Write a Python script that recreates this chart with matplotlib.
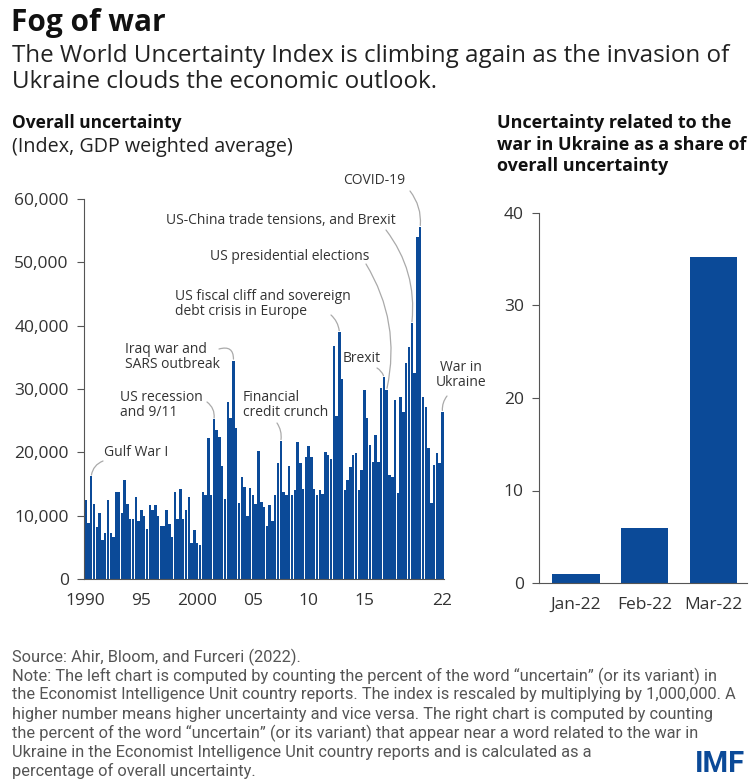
import matplotlib
matplotlib.use("Agg")
import matplotlib.pyplot as plt
import numpy as np

plt.rcParams['font.family'] = ['Open Sans', 'DejaVu Sans']

# World Uncertainty Index, quarterly 1990Q1 - 2022Q1
wui = [12.4, 8.8, 16.2, 11.8, 8.2, 10.4, 6.2, 7.3,
       12.5, 7.3, 6.7, 13.8, 13.7, 10.5, 15.7, 11.9,
       9.5, 9.4, 12.9, 9.1, 10.9, 9.9, 7.9, 11.7,
       10.9, 11.7, 9.9, 8.4, 8.3, 10.9, 8.7, 6.7,
       13.7, 9.5, 14.2, 9.4, 10.9, 12.9, 5.7, 7.8,
       5.7, 5.4, 13.7, 13.3, 22.3, 13.2, 25.2, 23.5,
       22.5, 17.9, 12.7, 27.9, 25.5, 34.5, 23.8, 12.0,
       16.1, 14.6, 9.9, 14.4, 13.2, 11.9, 20.2, 12.1,
       11.4, 8.3, 11.7, 9.1, 13.3, 18.3, 21.8, 13.8,
       13.3, 17.9, 13.3, 14.1, 21.7, 18.3, 14.2, 19.3,
       21.0, 19.3, 14.2, 13.3, 14.0, 13.5, 20.0, 19.6,
       19.0, 36.8, 25.8, 39.0, 31.6, 14.0, 15.6, 17.7,
       19.6, 19.9, 14.1, 17.2, 29.9, 25.4, 21.2, 18.5,
       22.7, 18.5, 30.2, 31.9, 29.9, 16.4, 16.1, 28.3,
       13.6, 28.8, 26.4, 34.1, 36.7, 40.4, 32.5, 54.0,
       55.6, 28.8, 27.2, 20.7, 12.0, 18.0, 19.9, 18.3,
       26.4]
wui = np.array(wui) * 1000

xtick_idx = [0, 20, 40, 60, 80, 100, 128]
xtick_lab = ['1990', '95', '2000', '05', '10', '15', '22']
ytick_vals = [0, 10000, 20000, 30000, 40000, 50000, 60000]

months = ['Jan-22', 'Feb-22', 'Mar-22']
share = [1.0, 6.0, 35.2]

# events: label, bar index, text position (figure px from top-left), leader start, rad, ha
events = [
    ('Gulf War I', 2, (104, 452), (103, 461), 0.3, 'left'),
    ('US recession\nand 9/11', 46, (120, 405), (207, 402), -0.3, 'left'),
    ('Iraq war and\nSARS outbreak', 53, (125, 357), (219, 349), -0.7, 'left'),
    ('Financial\ncredit crunch', 70, (243, 405), (277, 423), -0.2, 'left'),
    ('US fiscal cliff and sovereign\ndebt crisis in Europe', 91, (175, 304), (331, 315), -0.2, 'left'),
    ('Brexit', 107, (343, 359), (377, 368), -0.2, 'left'),
    ('US presidential elections', 108, (210, 256), (366, 264), -0.2, 'left'),
    ('US-China trade tensions, and Brexit', 117, (166, 220), (386, 230), -0.2, 'left'),
    ('COVID-19', 120, (343, 181), (410, 191), -0.2, 'left'),
    ('War in\nUkraine', 128, (461, 375), (447, 396), 0.2, 'center'),
]

blue = '#0b4a98'
W, H = 751, 780

fig = plt.figure(figsize=(W / 100, H / 100), dpi=100)

def fx(px):
    return px / W

def fy(py):
    return 1 - py / H

fig.text(fx(11), fy(23), 'Fog of war', fontsize=21.5, fontweight='bold', va='center', color='#111111')
fig.text(fx(12), fy(56), 'The World Uncertainty Index is climbing again as the invasion of',
         fontsize=17.4, va='center', color='#222222')
fig.text(fx(12), fy(82), 'Ukraine clouds the economic outlook.', fontsize=17.4, va='center', color='#222222')

fig.text(fx(12), fy(123), 'Overall uncertainty', fontsize=12.5, fontweight='bold', va='center', color='#111111')
fig.text(fx(12), fy(147), '(Index, GDP weighted average)', fontsize=14.2, va='center', color='#222222')

for i, line in enumerate(['Uncertainty related to the', 'war in Ukraine as a share of', 'overall uncertainty']):
    fig.text(fx(497), fy(123 + i * 21.5), line, fontsize=13, fontweight='bold', va='center', color='#111111')

# left chart
ax = fig.add_axes([fx(84), fy(579), fx(444) - fx(84), fy(199) - fy(579)])
x = np.arange(len(wui))
ax.bar(x, wui, width=0.88, color=blue, linewidth=0)
ax.set_xlim(-0.6, len(wui) - 0.45)
ax.set_ylim(0, 60000)
ax.set_yticks(ytick_vals)
ax.set_yticklabels([f'{v:,}' for v in ytick_vals])
ax.set_xticks(xtick_idx)
ax.set_xticklabels(xtick_lab)
ax.tick_params(axis='y', length=5, width=0.8, color='#555555', labelsize=12.5, labelcolor='#333333', pad=6)
ax.tick_params(axis='x', length=0, labelsize=12.5, labelcolor='#333333', pad=10)
for s in ['top', 'right']:
    ax.spines[s].set_visible(False)
for s in ['left', 'bottom']:
    ax.spines[s].set_color('#555555')
    ax.spines[s].set_linewidth(0.8)

for label, idx, tpos, lstart, rad, ha in events:
    ax.annotate(label, xy=(tpos[0], H - tpos[1]), xycoords='figure pixels',
                ha=ha, va='center', fontsize=10, color='#333333', linespacing=0.95)
    ax.annotate('', xy=(idx, wui[idx]), xycoords='data',
                xytext=(lstart[0], H - lstart[1]), textcoords='figure pixels',
                arrowprops=dict(arrowstyle='-', color='#aaaaaa', lw=0.9,
                                connectionstyle=f'arc3,rad={rad}', shrinkA=0, shrinkB=1))

# right chart
ax2 = fig.add_axes([fx(539), fy(583), fx(747) - fx(539), fy(213) - fy(583)])
ax2.bar(range(len(months)), share, width=0.69, color=blue, linewidth=0)
ax2.set_xlim(-0.54, 2.49)
ax2.set_ylim(0, 40)
ax2.set_yticks([0, 10, 20, 30, 40])
ax2.set_xticks(range(len(months)))
ax2.set_xticklabels(months)
ax2.tick_params(axis='y', length=5, width=0.8, color='#555555', labelsize=12.5, labelcolor='#333333', pad=6)
ax2.tick_params(axis='x', length=0, labelsize=12.5, labelcolor='#333333', pad=10)
for s in ['top', 'right']:
    ax2.spines[s].set_visible(False)
for s in ['left', 'bottom']:
    ax2.spines[s].set_color('#555555')
    ax2.spines[s].set_linewidth(0.8)

footer = [
    'Source: Ahir, Bloom, and Furceri (2022).',
    'Note: The left chart is computed by counting the percent of the word \u201cuncertain\u201d (or its variant) in',
    'the Economist Intelligence Unit country reports. The index is rescaled by multiplying by 1,000,000. A',
    'higher number means higher uncertainty and vice versa. The right chart is computed by counting',
    'the percent of the word \u201cuncertain\u201d (or its variant) that appear near a word related to the war in',
    'Ukraine in the Economist Intelligence Unit country reports and is calculated as a',
    'percentage of overall uncertainty.',
]
for i, line in enumerate(footer):
    fig.text(fx(12), fy(657 + i * 19), line, fontsize=11.8, va='center', color='#555555',
             family=['Roboto', 'DejaVu Sans'])

fig.text(fx(745), fy(778), 'IMF', fontsize=21, fontweight='bold', color=blue, ha='right', va='bottom',
         family=['Roboto', 'DejaVu Sans'])

fig.savefig('out.png', dpi=100)
